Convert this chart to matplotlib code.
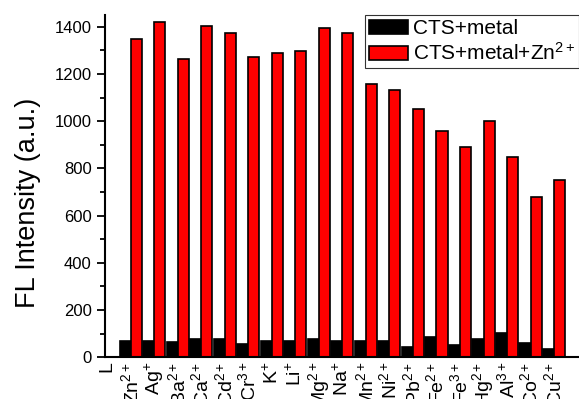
import numpy as np
import matplotlib
matplotlib.use('Agg')
import matplotlib.pyplot as plt
from matplotlib.ticker import MultipleLocator

plt.rcParams['font.family'] = ['Liberation Sans', 'DejaVu Sans']
plt.rcParams['mathtext.fontset'] = 'custom'
plt.rcParams['mathtext.rm'] = 'Liberation Sans'
plt.rcParams['mathtext.it'] = 'Liberation Sans'

# data
ions = ['L', r'Zn$^{2+}$', r'Ag$^{+}$', r'Ba$^{2+}$', r'Ca$^{2+}$', r'Cd$^{2+}$',
        r'Cr$^{3+}$', r'K$^{+}$', r'Li$^{+}$', r'Mg$^{2+}$', r'Na$^{+}$',
        r'Mn$^{2+}$', r'Ni$^{2+}$', r'Pb$^{2+}$', r'Fe$^{2+}$', r'Fe$^{3+}$',
        r'Hg$^{2+}$', r'Al$^{3+}$', r'Co$^{2+}$', r'Cu$^{2+}$']
metal = [0, 70, 70, 66, 76, 78, 58, 70, 70, 78, 70, 70, 68, 45, 87, 54, 76,
         101, 62, 37]
metal_zn = [0, 1350, 1422, 1265, 1405, 1372, 1272, 1290, 1296, 1393, 1372,
            1156, 1131, 1050, 957, 891, 1000, 849, 679, 750]

x = np.arange(len(ions))
w = 0.47

fig = plt.figure(figsize=(5.79, 3.99), dpi=100)
ax = fig.add_axes([0.181, 0.1045, 0.819, 0.858])

ax.bar(x - w / 2, metal, width=w, color='black', edgecolor='black',
       linewidth=1.2, label='CTS+metal')
ax.bar(x + w / 2, metal_zn, width=w, color='#ff0000', edgecolor='black',
       linewidth=1.2, label=r'CTS+metal+Zn$^{2+}$')

ax.set_xlim(-0.1, 20.06)
ax.set_ylim(0, 1450)
ax.yaxis.set_major_locator(MultipleLocator(200))
ax.yaxis.set_minor_locator(MultipleLocator(100))

ax.set_xticks(x)
ax.set_xticklabels(ions, rotation=90, fontsize=14)
ax.tick_params(axis='x', length=0, pad=3)
ax.tick_params(axis='y', which='major', length=6, width=1.3, labelsize=12)
ax.tick_params(axis='y', which='minor', length=3.5, width=1.3)

for s in ['top', 'right']:
    ax.spines[s].set_visible(False)
for s in ['left', 'bottom']:
    ax.spines[s].set_linewidth(1.5)

ax.set_ylabel('FL Intensity (a.u.)', fontsize=19.5)
ax.yaxis.set_label_coords(-0.135, 0.45)

leg = ax.legend(loc='upper right', bbox_to_anchor=(1.0, 1.0), fontsize=15,
                frameon=True, fancybox=False, edgecolor='black',
                handlelength=1.9, handleheight=0.7, handletextpad=0.2,
                labelspacing=0.2, borderpad=0.2, borderaxespad=0.0)
leg.get_frame().set_linewidth(0.8)

fig.savefig('out.png', dpi=100)
